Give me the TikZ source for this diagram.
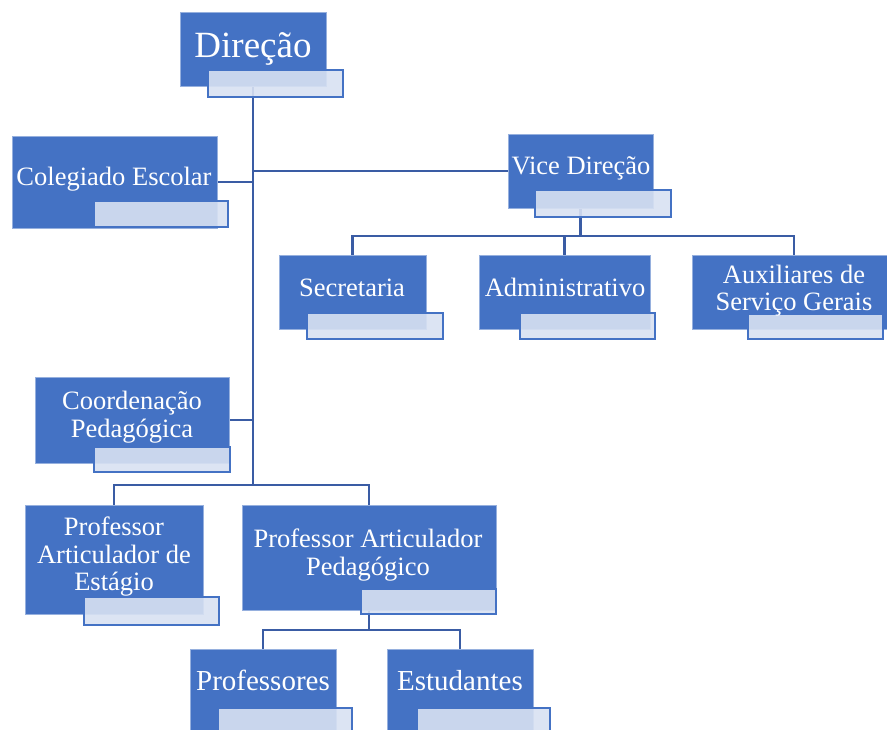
\documentclass[tikz,border=0pt]{standalone}
\usepackage{fontspec}
\setmainfont{Liberation Serif}
\usetikzlibrary{backgrounds}
\definecolor{mainblue}{RGB}{68,114,196}
\definecolor{mainedge}{RGB}{150,176,222}
\definecolor{overfill}{RGB}{216,225,242}
\definecolor{linkblue}{RGB}{58,92,164}
\tikzset{
  mainb/.style={rectangle, fill=mainblue, draw=mainedge, line width=0.6pt, inner sep=0pt, outer sep=0pt},
  overb/.style={rectangle, fill=overfill, fill opacity=0.9, draw=mainblue, draw opacity=1, line width=2pt, inner sep=0pt, outer sep=0pt},
  txt/.style={text=white, inner sep=0pt, anchor=base, font=\fontsize{26.5}{28}\selectfont},
  bigtxt/.style={txt, font=\fontsize{37}{40}\selectfont},
  midtxt/.style={txt, font=\fontsize{29}{31}\selectfont},
  link/.style={draw=linkblue, line width=2.8pt}
}
\newcommand\orgbox[9]{%
  \node[mainb, minimum width={(#4-#2)*1pt}, minimum height={(#5-#3)*1pt}] (#1) at ({(#2+#4)/2},{(#3+#5)/2}) {};
  \node[overb, minimum width={(#8-#6)*1pt}, minimum height={(#9-#7)*1pt}] (#1o) at ({(#6+#8)/2},{(#7+#9)/2}) {};
}
\begin{document}
\begin{tikzpicture}[x=1pt,y=-1pt]
\useasboundingbox (0,0) rectangle (887,729);
% boxes
\orgbox{dir}{180}{12}{326}{86}{208}{70}{343}{97}
\orgbox{col}{12}{136}{217}{228}{94}{201}{228}{227}
\orgbox{vice}{508}{134}{653}{208}{535}{190}{671}{217}
\orgbox{sec}{279}{255}{426}{329}{307}{313}{443}{339}
\orgbox{adm}{479}{255}{650}{329}{520}{313}{655}{339}
\orgbox{aux}{692}{255}{896}{329}{748}{314}{883}{339}
\orgbox{coord}{35}{377}{229}{463}{94}{447}{230}{472}
\orgbox{pae}{25}{505}{203}{614}{84}{597}{219}{625}
\orgbox{pap}{242}{505}{496}{610}{361}{589}{496}{614}
\orgbox{profs}{190}{649}{336}{740}{218}{708}{352}{745}
\orgbox{est}{387}{649}{533}{740}{417}{708}{550}{745}
% texts
\node[bigtxt] (dirT) at (253,57) {Direção};
\node[txt] (colT) at (114,185) {Colegiado Escolar};
\node[txt] (viceT) at (581,174) {Vice Direção};
\node[txt] (secT) at (352,296) {Secretaria};
\node[txt] (admT) at (565,296) {Administrativo};
\node[txt] (auxT1) at (794,283) {Auxiliares de};
\node[txt] (auxT2) at (794,310) {Serviço Gerais};
\node[txt] (coordT1) at (132,409) {Coordenação};
\node[txt] (coordT2) at (132,437) {Pedagógica};
\node[txt] (paeT1) at (114,535) {Professor};
\node[txt] (paeT2) at (114,563) {Articulador de};
\node[txt] (paeT3) at (114,590) {Estágio};
\node[txt] (papT1) at (368,547) {Professor Articulador};
\node[txt] (papT2) at (368,575) {Pedagógico};
\node[midtxt] (profsT) at (263,690) {Professores};
\node[midtxt] (estT) at (460,690) {Estudantes};
% connectors
\coordinate (trunkend) at (dir.south |- 0,485);
\coordinate (vicebus) at (vice.south |- 0,236);
\coordinate (papbus) at (pap.south |- 0,630);
\begin{pgfonlayer}{background}
  \draw[link] (dir.south) -- (trunkend);
  \draw[link] (vice.west) -- (vice.west -| dir.south);
  \draw[link] (col.east) -- (col.east -| dir.south);
  \draw[link] (coord.east) -- (coord.east -| dir.south);
  \draw[link] (pae.north) |- (trunkend) -| (pap.north);
  \draw[link] (vice.south) -- (vicebus);
  \draw[link] (sec.north) |- (vicebus) -| (aux.north);
  \draw[link] (adm.north) -- (adm.north |- vicebus);
  \draw[link] (pap.south) -- (papbus);
  \draw[link] (profs.north) |- (papbus) -| (est.north);
\end{pgfonlayer}
\end{tikzpicture}
\end{document}
